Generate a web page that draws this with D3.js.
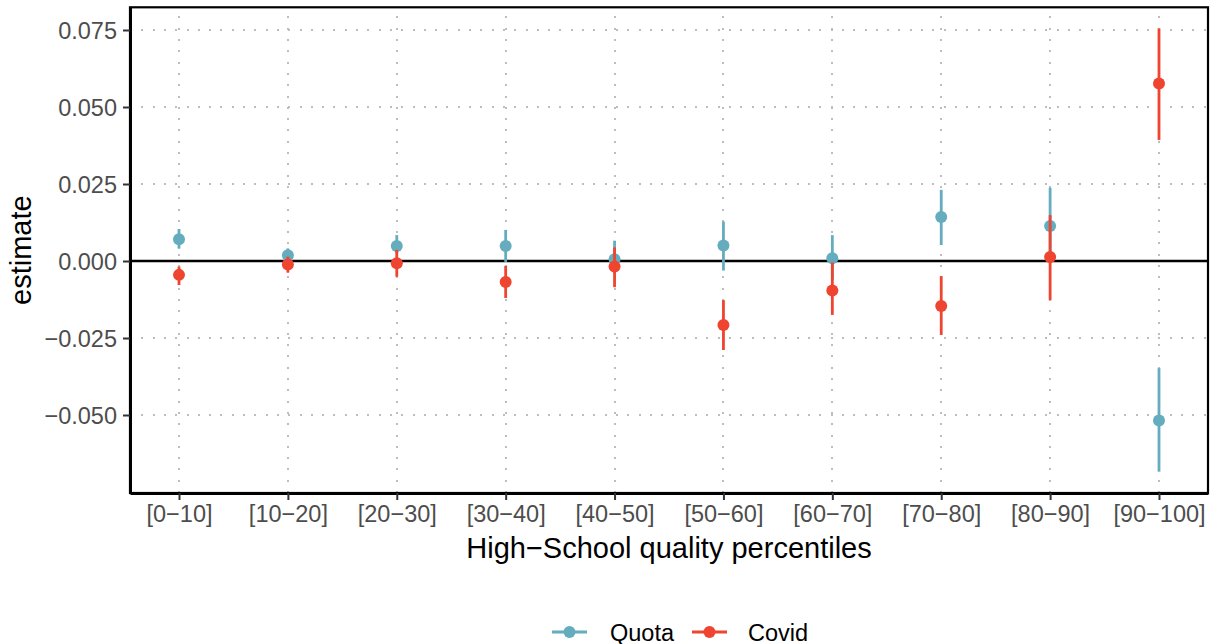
<!DOCTYPE html>
<html>
<head>
<meta charset="utf-8">
<script src="https://cdn.jsdelivr.net/npm/d3@7"></script>
<style>
  html, body { margin: 0; padding: 0; background: #fff; }
  svg { display: block; font-family: "Liberation Sans", Arial, sans-serif; }
</style>
</head>
<body>
<svg id="chart" width="1213" height="644"></svg>
<script>
// ---- data ----
const categories = ["[0\u221210]", "[10\u221220]", "[20\u221230]", "[30\u221240]", "[40\u221250]",
                    "[50\u221260]", "[60\u221270]", "[70\u221280]", "[80\u221290]", "[90\u2212100]"];
const quotaEst = [0.0071, 0.0019, 0.0049, 0.0049, 0.0006, 0.0050, 0.0009, 0.0143, 0.0114, -0.0518];
const quotaLo  = [0.0040, 0.0003, 0.0023, -0.0003, -0.0040, -0.0031, -0.0060, 0.0052, 0.0000, -0.0684];
const quotaHi  = [0.0104, 0.0041, 0.0084, 0.0101, 0.0066, 0.0128, 0.0084, 0.0231, 0.0238, -0.0348];
const covidEst = [-0.0045, -0.0011, -0.0007, -0.0068, -0.0018, -0.0208, -0.0096, -0.0146, 0.0013, 0.0576];
const covidLo  = [-0.0078, -0.0038, -0.0051, -0.0120, -0.0085, -0.0289, -0.0175, -0.0240, -0.0127, 0.0393];
const covidHi  = [-0.0018, 0.0014, 0.0036, -0.0016, 0.0044, -0.0127, -0.0005, -0.0049, 0.0149, 0.0755];
const yTicks = [-0.050, -0.025, 0.000, 0.025, 0.050, 0.075];
const seriesNames = ["Quota", "Covid"];
const seriesColors = ["#64ACBE", "#EE4430"];

// ---- layout ----
const svg = d3.select("#chart");
const panel = { left: 130, right: 1208, top: 7.3, bottom: 493 };

const x = d3.scalePoint().domain(categories).range([panel.left, panel.right]).padding(0.45);
const y = d3.scaleLinear().domain([-0.07532, 0.08237]).range([panel.bottom, panel.top]);

const series = [
  { name: seriesNames[0], color: seriesColors[0], est: quotaEst, lo: quotaLo, hi: quotaHi },
  { name: seriesNames[1], color: seriesColors[1], est: covidEst, lo: covidLo, hi: covidHi }
];

// grid
const grid = svg.append("g").attr("shape-rendering", "crispEdges");
grid.selectAll("line.h").data(yTicks).join("line")
  .attr("x1", panel.left).attr("x2", panel.right)
  .attr("y1", d => Math.round(y(d))).attr("y2", d => Math.round(y(d)))
  .attr("stroke", "#BEBEBE").attr("stroke-width", 2).attr("stroke-dasharray", "2,9.3");
grid.selectAll("line.v").data(categories).join("line")
  .attr("x1", d => Math.round(x(d))).attr("x2", d => Math.round(x(d)))
  .attr("y1", panel.bottom).attr("y2", panel.top)
  .attr("stroke", "#BEBEBE").attr("stroke-width", 2).attr("stroke-dasharray", "2,9.3");

// zero line
svg.append("line")
  .attr("x1", panel.left).attr("x2", panel.right)
  .attr("y1", y(0)).attr("y2", y(0))
  .attr("stroke", "#000").attr("stroke-width", 2.6);

// panel border
svg.append("rect")
  .attr("x", panel.left).attr("y", panel.top)
  .attr("width", panel.right - panel.left).attr("height", panel.bottom - panel.top)
  .attr("fill", "none").attr("stroke", "#000").attr("stroke-width", 2.2);

// point ranges
series.forEach(s => {
  const g = svg.append("g");
  g.selectAll("line").data(categories).join("line")
    .attr("x1", d => x(d)).attr("x2", d => x(d))
    .attr("y1", (d, i) => y(s.lo[i])).attr("y2", (d, i) => y(s.hi[i]))
    .attr("stroke", s.color).attr("stroke-width", 2.8);
  g.selectAll("circle").data(categories).join("circle")
    .attr("cx", d => x(d)).attr("cy", (d, i) => y(s.est[i]))
    .attr("r", 6).attr("fill", s.color);
});

// axes
const yAxis = d3.axisLeft(y).tickValues(yTicks).tickSize(7).tickSizeOuter(0).tickPadding(6)
  .tickFormat(d => d3.format(".3f")(d).replace("-", "\u2212"));
const gy = svg.append("g").attr("transform", `translate(${panel.left},0)`).call(yAxis);
gy.select(".domain").attr("stroke", "#000").attr("stroke-width", 3);
gy.selectAll(".tick line").attr("stroke", "#333").attr("stroke-width", 2);
gy.selectAll(".tick text").attr("fill", "#4D4D4D").style("font-size", "23.5px")
  .attr("dy", "0.36em");

const xAxis = d3.axisBottom(x).tickSize(7).tickSizeOuter(0).tickPadding(5);
const gx = svg.append("g").attr("transform", `translate(0,${panel.bottom})`).call(xAxis);
gx.select(".domain").attr("stroke", "#000").attr("stroke-width", 3);
gx.selectAll(".tick line").attr("stroke", "#333").attr("stroke-width", 2);
gx.selectAll(".tick text").attr("fill", "#4D4D4D").style("font-size", "23.5px")
  .attr("dy", "0.72em");

// axis titles
svg.append("text")
  .attr("x", (panel.left + panel.right) / 2).attr("y", 558)
  .attr("text-anchor", "middle").style("font-size", "29px").attr("fill", "#000")
  .text("High\u2212School quality percentiles");
svg.append("text")
  .attr("transform", `translate(31,${(panel.top + panel.bottom) / 2}) rotate(-90)`)
  .attr("text-anchor", "middle").style("font-size", "29px").attr("fill", "#000")
  .text("estimate");

// legend
const legendY = 632;
const legendItems = [
  { x0: 552, tx: 610 },
  { x0: 692, tx: 748 }
];
series.forEach((s, i) => {
  const li = legendItems[i];
  svg.append("line")
    .attr("x1", li.x0).attr("x2", li.x0 + 35)
    .attr("y1", legendY).attr("y2", legendY)
    .attr("stroke", s.color).attr("stroke-width", 2.8);
  svg.append("circle").attr("cx", li.x0 + 17.5).attr("cy", legendY).attr("r", 6).attr("fill", s.color);
  svg.append("text").attr("x", li.tx).attr("y", legendY + 8.5)
    .style("font-size", "23.5px").attr("fill", "#000").text(s.name);
});
</script>
</body>
</html>
